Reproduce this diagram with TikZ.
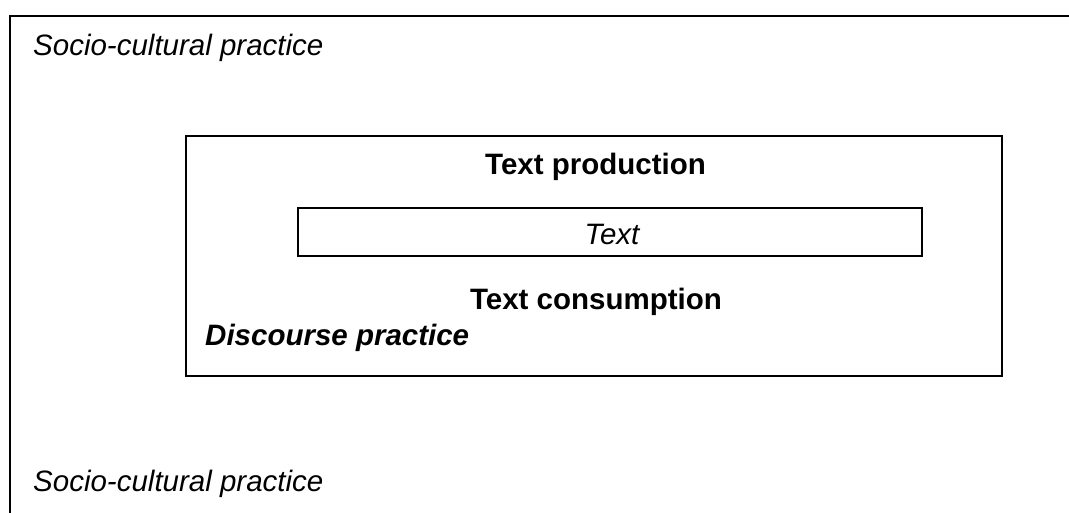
\documentclass[tikz,border=0pt]{standalone}
\usepackage{fontspec}
\setmainfont{Liberation Sans}
\tikzset{
  frame/.style={draw, line width=2pt},
  lbl/.style={inner sep=0pt, font=\fontsize{29.5}{35}\selectfont},
}
\begin{document}
\begin{tikzpicture}[x=1pt, y=-1pt]
\useasboundingbox (0,0) rectangle (1069,513);

% Outer frame (open at right and bottom)
\coordinate (outR) at (1069,16);
\coordinate (outTL) at (10,16);
\coordinate (outB) at (10,513);
\draw[line width=2pt] (outR) -- (outTL) -- (outB);

% Discourse practice box
\draw[frame] (186,136) rectangle (1002,376);

% Text box
\draw[frame] (298,208) rectangle (922,256);

% Labels
\node[lbl, anchor=base west] (sctop) at (33,56) {\itshape Socio-cultural practice};
\node[lbl, anchor=base west] (scbot) at (33,491) {\itshape Socio-cultural practice};
\node[lbl, anchor=base] (prod) at (595.5,175) {\bfseries Text production};
\node[lbl, anchor=base] (txt) at (612,245) {\itshape Text};
\node[lbl, anchor=base] (cons) at (596,309) {\bfseries Text consumption};
\node[lbl, anchor=base west] (disc) at (205,345) {\bfseries\itshape Discourse practice};

\end{tikzpicture}
\end{document}
